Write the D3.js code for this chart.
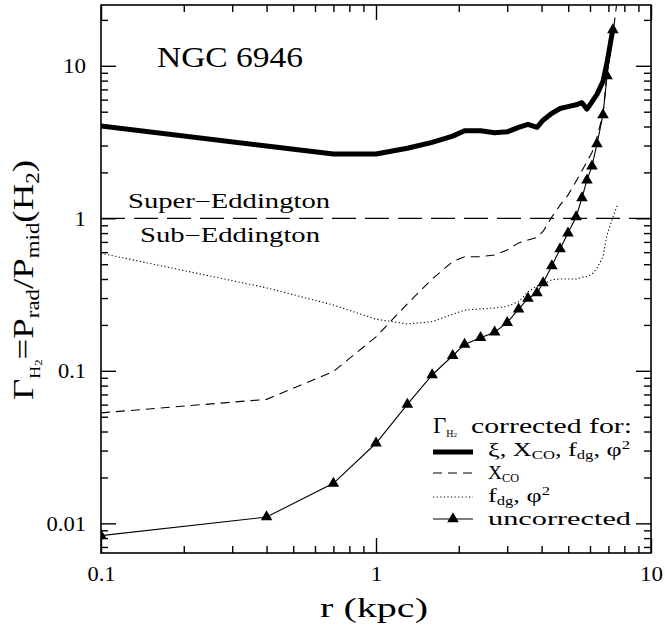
<!DOCTYPE html>
<html><head><meta charset="utf-8">
<script src="https://cdn.jsdelivr.net/npm/d3@7"></script>
<style>body{margin:0;background:#fff}svg{display:block}</style>
</head><body>
<svg id="c" width="665" height="630"></svg>
<script>
// ---- data ----
const radius = [0.1,0.4,0.7,1.0,1.3,1.6,1.9,2.1,2.4,2.7,3.0,3.3,3.57,3.85,4.05,4.36,4.67,4.99,5.34,5.61,5.85,6.10,6.36,6.69,6.92,7.27,7.55];
const gammaAllCorr = [4.03,2.98,2.64,2.64,2.88,3.15,3.46,3.75,3.75,3.64,3.69,3.95,4.13,3.95,4.4,4.88,5.25,5.4,5.55,5.73,5.2,5.8,6.5,7.9,10.5,17.5];
const gammaXco = [0.053,0.065,0.099,0.167,0.275,0.40,0.52,0.56,0.56,0.575,0.62,0.69,0.72,0.75,0.82,1.02,1.22,1.42,1.75,2.05,2.35,2.7,3.4,4.8,9.0,16.0,28.0];
const gammaFdg = [0.59,0.35,0.27,0.218,0.203,0.21,0.235,0.25,0.255,0.258,0.265,0.284,0.33,0.36,0.37,0.395,0.40,0.40,0.40,0.41,0.415,0.43,0.47,0.56,0.78,1.02,1.22];
const gammaUncorr = [0.0083,0.011,0.0183,0.0335,0.0603,0.0939,0.1256,0.149,0.165,0.179,0.207,0.254,0.298,0.324,0.377,0.487,0.63,0.80,1.02,1.36,1.78,2.20,3.07,4.76,8.57,17.2];
const eddingtonLimit = [1];
const xTickValues = [0.1,1,10];
const xTickLabels = ["0.1","1","10"];
const yTickValues = [0.01,0.1,1,10];
const yTickLabels = ["0.01","0.1","1","10"];
const minorMult = [2,3,4,5,6,7,8,9];

// ---- layout ----
const L=101, R=651, T=5, B=553;
const FONT = "Liberation Serif";
const svg = d3.select("#c");
const x = d3.scaleLog().domain([0.1,10]).range([L,R]);
const y = d3.scaleLog().domain([0.00639,25.04]).range([B,T]);
const xMinor = [0.1,1].flatMap(d=>minorMult.map(m=>d*m));
const yMinor = [0.001,0.01,0.1,1,10].flatMap(d=>minorMult.map(m=>d*m)).filter(v=>v>y.domain()[0]&&v<y.domain()[1]);

svg.append("defs").append("clipPath").attr("id","clip")
  .append("rect").attr("x",L).attr("y",T).attr("width",R-L).attr("height",B-T);

function styleAxis(g){
  g.select(".domain").remove();
  g.selectAll(".tick line").attr("stroke","#000").attr("stroke-width",1.4);
  g.attr("font-family",FONT).attr("font-size",22).selectAll("text").attr("fill","#000");
}
function stretchLabels(g, w){
  g.selectAll(".tick text").each(function(){
    const s = this.textContent; if(!s) return;
    d3.select(this).attr("textLength", w*s.replace(".","").length + (s.includes(".")?5:0)).attr("lengthAdjust","spacingAndGlyphs");
  });
}
svg.append("g").attr("transform",`translate(0,${B})`)
  .call(d3.axisBottom(x).tickValues(xTickValues).tickSize(-15).tickPadding(12).tickFormat((d,i)=>xTickLabels[i])).call(styleAxis).call(g=>stretchLabels(g,11.5));
svg.append("g").attr("transform",`translate(0,${B})`)
  .call(d3.axisBottom(x).tickValues(xMinor).tickSize(-7).tickFormat("")).call(styleAxis);
svg.append("g").attr("transform",`translate(0,${T})`)
  .call(d3.axisTop(x).tickValues(xTickValues).tickSize(-15).tickFormat("")).call(styleAxis);
svg.append("g").attr("transform",`translate(0,${T})`)
  .call(d3.axisTop(x).tickValues(xMinor).tickSize(-7).tickFormat("")).call(styleAxis);
svg.append("g").attr("transform",`translate(${L},0)`)
  .call(d3.axisLeft(y).tickValues(yTickValues).tickSize(-15).tickPadding(15).tickFormat((d,i)=>yTickLabels[i])).call(styleAxis).call(g=>stretchLabels(g,11.5));
svg.append("g").attr("transform",`translate(${L},0)`)
  .call(d3.axisLeft(y).tickValues(yMinor).tickSize(-7).tickFormat("")).call(styleAxis);
svg.append("g").attr("transform",`translate(${R},0)`)
  .call(d3.axisRight(y).tickValues(yTickValues).tickSize(-15).tickFormat("")).call(styleAxis);
svg.append("g").attr("transform",`translate(${R},0)`)
  .call(d3.axisRight(y).tickValues(yMinor).tickSize(-7).tickFormat("")).call(styleAxis);

svg.append("rect").attr("x",L).attr("y",T).attr("width",R-L).attr("height",B-T)
  .attr("fill","none").attr("stroke","#000").attr("stroke-width",1.6);

// ---- lines ----
const line = d3.line().x(d=>x(d[0])).y(d=>y(d[1]));
const pts = arr => arr.map((v,i)=>[radius[i],v]);
const plot = svg.append("g").attr("clip-path","url(#clip)");

plot.append("line").attr("x1",x(0.1)).attr("x2",x(10)).attr("y1",y(eddingtonLimit[0])).attr("y2",y(eddingtonLimit[0]))
  .attr("stroke","#000").attr("stroke-width",1.2).attr("stroke-dasharray","24,9");
plot.append("path").attr("d",line(pts(gammaFdg))).attr("fill","none").attr("stroke","#000")
  .attr("stroke-width",1.1).attr("stroke-dasharray","1.2,2.4");
plot.append("path").attr("d",line(pts(gammaXco))).attr("fill","none").attr("stroke","#000")
  .attr("stroke-width",1.1).attr("stroke-dasharray","9,6");
plot.append("path").attr("d",line(pts(gammaUncorr))).attr("fill","none").attr("stroke","#000")
  .attr("stroke-width",1.1);
plot.append("path").attr("d",line(pts(gammaAllCorr))).attr("fill","none").attr("stroke","#000")
  .attr("stroke-width",5).attr("stroke-linejoin","round").attr("stroke-linecap","round");

const tri = d3.symbol().type(d3.symbolTriangle).size(58);
plot.selectAll("path.tri").data(pts(gammaUncorr)).join("path").attr("class","tri")
  .attr("d",tri).attr("transform",d=>`translate(${x(d[0])},${y(d[1])})`).attr("fill","#000");

// ---- text ----
function txt(xp,yp,s,size,len){
  const t = svg.append("text").attr("x",xp).attr("y",yp).attr("font-family",FONT)
    .attr("font-size",size).attr("fill","#000").text(s);
  if(len) t.attr("textLength",len).attr("lengthAdjust","spacingAndGlyphs");
  return t;
}
txt(157,67,"NGC 6946",29,146);
txt(128,208,"Super\u2212Eddington",20,202);
txt(140,242,"Sub\u2212Eddington",20,180);
txt(320,617,"r (kpc)",28,108);

// y axis label
{
  const t = svg.append("text").attr("transform","translate(33,280) rotate(-90)")
    .attr("text-anchor","middle").attr("font-family",FONT).attr("font-size",29).attr("fill","#000")
    .attr("textLength",240).attr("lengthAdjust","spacingAndGlyphs");
  t.append("tspan").text("\u0393");
  t.append("tspan").attr("font-size",14).attr("dy",7).text("H");
  t.append("tspan").attr("font-size",10).attr("dy",2).text("2");
  t.append("tspan").attr("dy",-9).text("=P");
  t.append("tspan").attr("font-size",18).attr("dy",6).text("rad");
  t.append("tspan").attr("dy",-6).text("/P");
  t.append("tspan").attr("font-size",18).attr("dy",6).text("mid");
  t.append("tspan").attr("dy",-6).text("(H");
  t.append("tspan").attr("font-size",18).attr("dy",6).text("2");
  t.append("tspan").attr("dy",-6).text(")");
}

// ---- legend ----
const lgX0 = 433, lgX1 = 473, lgTx = 488;
const legendRows = [452,473,497,519];
{
  const t = svg.append("text").attr("x",lgX0).attr("y",433).attr("font-family",FONT).attr("font-size",23).attr("fill","#000");
  t.append("tspan").text("\u0393");
  t.append("tspan").attr("font-size",10).attr("dy",3.5).text("H");
  t.append("tspan").attr("font-size",7).attr("dy",0).text("2");
  txt(471,433,"corrected for:",21,161);
}
svg.append("line").attr("x1",lgX0).attr("x2",lgX1).attr("y1",legendRows[0]).attr("y2",legendRows[0]).attr("stroke","#000").attr("stroke-width",5);
svg.append("line").attr("x1",lgX0).attr("x2",lgX1).attr("y1",legendRows[1]).attr("y2",legendRows[1]).attr("stroke","#000").attr("stroke-width",1.1).attr("stroke-dasharray","9,6");
svg.append("line").attr("x1",lgX0).attr("x2",lgX1).attr("y1",legendRows[2]).attr("y2",legendRows[2]).attr("stroke","#000").attr("stroke-width",1.1).attr("stroke-dasharray","1.2,2.4");
svg.append("line").attr("x1",lgX0).attr("x2",lgX1).attr("y1",legendRows[3]).attr("y2",legendRows[3]).attr("stroke","#000").attr("stroke-width",1.1);
svg.append("path").attr("d",tri).attr("transform",`translate(${(lgX0+lgX1)/2},${legendRows[3]})`).attr("fill","#000");

function richText(xp,yp,parts,len){
  const t = svg.append("text").attr("x",xp).attr("y",yp).attr("font-family",FONT).attr("font-size",19).attr("fill","#000");
  let shift=0;
  parts.forEach(([s,k])=>{
    const target = k==="sub"?3:(k==="sup"?-7:0);
    const sp = t.append("tspan").attr("dy",target-shift).text(s);
    if(k) sp.attr("font-size",12);
    shift=target;
  });
  if(len) t.attr("textLength",len).attr("lengthAdjust","spacingAndGlyphs");
  return t;
}
richText(lgTx,456,[["\u03BE, X"],["CO","sub"],[", f"],["dg","sub"],[", \u03C6"],["2","sup"]],142);
richText(lgTx,479,[["X"],["CO","sub"]],31);
richText(lgTx,502,[["f"],["dg","sub"],[", \u03C6"],["2","sup"]],62);
richText(lgTx,525,[["uncorrected"]],143);
</script>
</body></html>
